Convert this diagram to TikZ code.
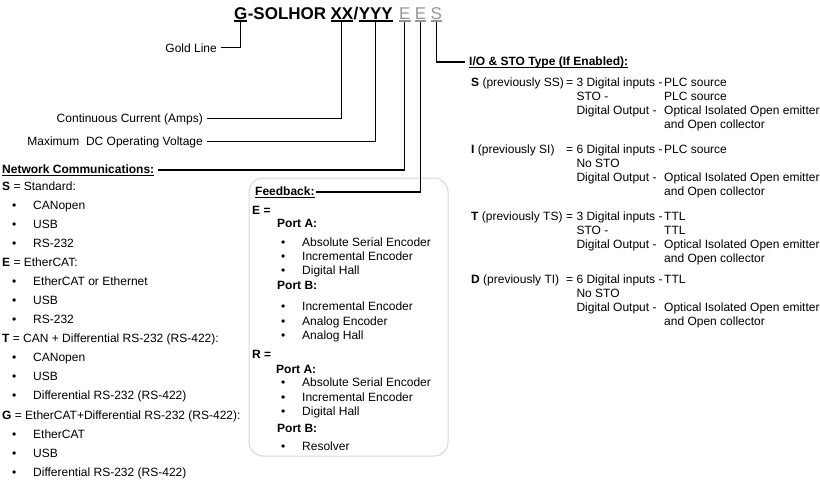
\documentclass[tikz,border=0pt]{standalone}
\usepackage{fontspec}
\usepackage{xcolor}
\usepackage{tikz}
\setmainfont{Liberation Sans}
\usetikzlibrary{positioning}

\definecolor{optgrey}{RGB}{150,150,150}
\definecolor{boxgrey}{RGB}{214,214,214}

\newcommand{\uln}[2][0.9pt]{\setbox0\hbox{#2}\rlap{\rule[-2.6pt]{\wd0}{#1}}\box0}
\newcommand{\blt}[2][10pt]{\hspace*{#1}\makebox[21pt][l]{\textbullet}#2}

\tikzset{
  txt/.style={inner sep=0pt, anchor=base west, font=\fontsize{12}{14}\selectfont},
  lbl/.style={txt, inner xsep=4pt},
  list/.style={txt, font=\fontsize{12}{19}\selectfont},
  code/.style={inner sep=0pt, anchor=base west, font=\fontsize{17}{18}\selectfont\bfseries},
  opt/.style={code, font=\fontsize{17}{18}\selectfont, text=optgrey},
  wire/.style={draw, line width=1.1pt},
  fbbox/.style={draw=boxgrey, line width=1pt, rounded corners=14pt}
}

\begin{document}
\begin{tikzpicture}[x=1pt, y=-1pt]
        \useasboundingbox (0,0) rectangle (820,483);

        \node[code] (G) at (234,19) {\uln[1.3pt]{G}};
        \node[code] (SOL) [right=0pt of G.base east, anchor=base west] {-SOLHOR};
        \node[code] (XX) [right=4pt of SOL.base east, anchor=base west] {\uln[1.3pt]{XX}};
        \node[code] (SL) [right=0pt of XX.base east, anchor=base west] {/};
        \node[code] (YYY) [right=0pt of SL.base east, anchor=base west] {\uln[1.3pt]{YYY}};
        \node[opt] (E1) [right=6pt of YYY.base east, anchor=base west] {\uln[1.3pt]{E}};
        \node[opt] (E2) [right=4pt of E1.base east, anchor=base west] {\uln[1.3pt]{E}};
        \node[opt] (S1) [right=4pt of E2.base east, anchor=base west] {\uln[1.3pt]{S}};

        \node[lbl, anchor=base east] (Gold) at (221,52) {Gold Line};
        \node[lbl, anchor=base east] (Cur) at (207,122) {Continuous Current (Amps)};
        \node[lbl, anchor=base east] (Volt) at (207,145) {Maximum\ \ DC Operating Voltage};
        \node[lbl] (Net) at (-2,173) {\uln{\textbf{Network Communications:}}};
        \node[lbl] (IO) at (465,65) {\uln{\textbf{I/O \& STO Type (If Enabled):}}};

        \node[list] (NetS) at (2,190) {\begin{tabular}[t]{@{}l@{}}
            \textbf{S} = Standard:\\ \blt{CANopen}\\ \blt{USB}\\ \blt{RS-232}
          \end{tabular}};
        \node[list] (NetE) [below=76pt of NetS.base west, anchor=base west] {\begin{tabular}[t]{@{}l@{}}
            \textbf{E} = EtherCAT:\\ \blt{EtherCAT or Ethernet}\\ \blt{USB}\\ \blt{RS-232}
          \end{tabular}};
        \node[list] (NetT) [below=76pt of NetE.base west, anchor=base west] {\begin{tabular}[t]{@{}l@{}}
            \textbf{T} = CAN + Differential RS-232 (RS-422):\\ \blt{CANopen}\\ \blt{USB}\\ \blt{Differential RS-232 (RS-422)}
          \end{tabular}};
        \node[list] (NetG) [below=77pt of NetT.base west, anchor=base west] {\begin{tabular}[t]{@{}l@{}}
            \textbf{G} = EtherCAT+Differential RS-232 (RS-422):\\ \blt{EtherCAT}\\ \blt{USB}\\ \blt{Differential RS-232 (RS-422)}
          \end{tabular}};

        \draw[fbbox] (249,178) rectangle (448,456);
        \node[lbl, inner xsep=1pt] (Fb) at (254,195) {\uln{\textbf{Feedback:}}};
        \node[txt] (FbE) at (252,214) {\begin{tabular}[t]{@{}l@{}}
            \textbf{E =}\\[-1pt]
            \hspace*{25pt}\textbf{Port A:}\\[5pt]
            \blt[29pt]{Absolute Serial Encoder}\\
            \blt[29pt]{Incremental Encoder}\\
            \blt[29pt]{Digital Hall}\\[1pt]
            \hspace*{25pt}\textbf{Port B:}\\[7pt]
            \blt[29pt]{Incremental Encoder}\\[1pt]
            \blt[29pt]{Analog Encoder}\\
            \blt[29pt]{Analog Hall}
          \end{tabular}};
        \node[txt] (FbR) [below=144pt of FbE.base west, anchor=base west] {\begin{tabular}[t]{@{}l@{}}
            \textbf{R =}\\[1pt]
            \hspace*{24pt}\textbf{Port A:}\\[-1pt]
            \blt[29pt]{Absolute Serial Encoder}\\[1pt]
            \blt[29pt]{Incremental Encoder}\\
            \blt[29pt]{Digital Hall}\\[3pt]
            \hspace*{25pt}\textbf{Port B:}\\[4pt]
            \blt[29pt]{Resolver}
          \end{tabular}};

        \node[txt] (RS) at (471,86) {\begin{tabular}[t]{@{}p{95pt}@{}p{98pt}@{}l@{}}
            \mbox{\textbf{S} (previously SS)} & = 3 Digital inputs - & PLC source\\
            & \phantom{=}\ STO - & PLC source\\
            & \phantom{=}\ Digital Output - & Optical Isolated Open emitter\\
            & & and Open collector
          \end{tabular}};
        \node[txt] (RI) [below=67pt of RS.base west, anchor=base west] {\begin{tabular}[t]{@{}p{95pt}@{}p{98pt}@{}l@{}}
            \mbox{\textbf{I} (previously SI)} & = 6 Digital inputs - & PLC source\\
            & \phantom{=}\ No STO & \\
            & \phantom{=}\ Digital Output - & Optical Isolated Open emitter\\
            & & and Open collector
          \end{tabular}};
        \node[txt] (RT) [below=67pt of RI.base west, anchor=base west] {\begin{tabular}[t]{@{}p{95pt}@{}p{98pt}@{}l@{}}
            \mbox{\textbf{T} (previously TS)} & = 3 Digital inputs - & TTL\\
            & \phantom{=}\ STO - & TTL\\
            & \phantom{=}\ Digital Output - & Optical Isolated Open emitter\\
            & & and Open collector
          \end{tabular}};
        \node[txt] (RD) [below=63pt of RT.base west, anchor=base west] {\begin{tabular}[t]{@{}p{95pt}@{}p{98pt}@{}l@{}}
            \mbox{\textbf{D} (previously TI)} & = 6 Digital inputs - & TTL\\
            & \phantom{=}\ No STO & \\
            & \phantom{=}\ Digital Output - & Optical Isolated Open emitter\\
            & & and Open collector
          \end{tabular}};

        \path[wire]
          (G.south) |- (Gold.east)
          (XX.south) |- (Cur.east)
          (YYY.south) |- (Volt.east)
          (E1.south) |- (Net.east)
          (E2.south) |- (Fb.east)
          (S1.south) |- (IO.west);
\end{tikzpicture}
\end{document}
